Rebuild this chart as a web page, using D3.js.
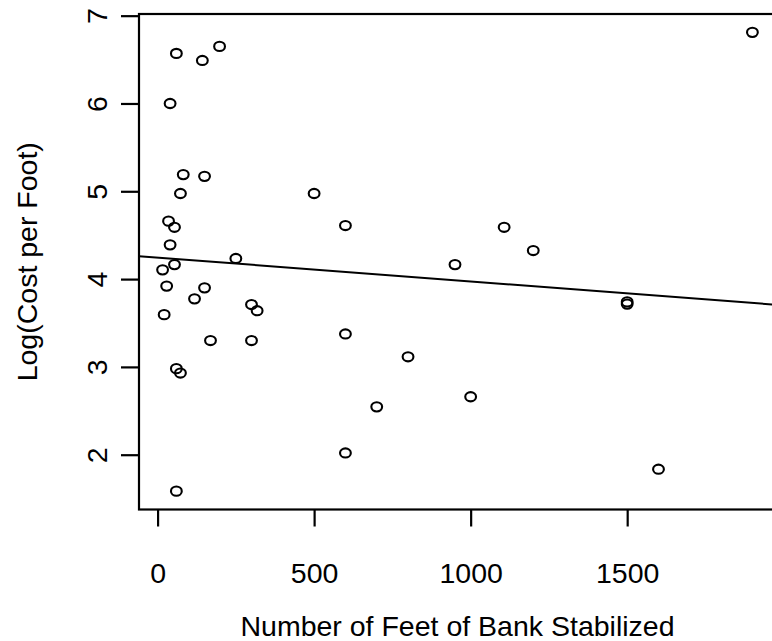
<!DOCTYPE html>
<html>
<head>
<meta charset="utf-8">
<script src="https://cdn.jsdelivr.net/npm/d3@7"></script>
<style>
  body { margin: 0; background: #fff; }
  svg { display: block; }
  text { font-family: "Liberation Sans", Arial, Helvetica, sans-serif; fill: #000; }
</style>
</head>
<body>
<div id="chart"></div>
<script>
// feet of bank stabilized
const feet = [60, 143, 198, 40, 82, 150, 73, 500, 1900,
  35, 54, 40, 54, 16, 29, 150, 118, 21, 169, 300, 318, 300,
  60, 73, 60, 250, 600, 600, 600, 700, 1107, 1200, 950,
  1500, 1500, 800, 1000, 1600];
// log(cost per foot)
const logCost = [6.57, 6.49, 6.65, 6.0, 5.19, 5.17, 4.975, 4.975, 6.81,
  4.66, 4.59, 4.39, 4.165, 4.105, 3.92, 3.90, 3.775, 3.595, 3.30, 3.71, 3.64, 3.30,
  2.98, 2.93, 1.585, 4.235, 4.61, 3.375, 2.02, 2.545, 4.59, 4.325, 4.165,
  3.74, 3.715, 3.115, 2.66, 1.835];

const xTicks = [0, 500, 1000, 1500];
const yTicks = [2, 3, 4, 5, 6, 7];

// fitted line
const fitIntercept = 4.245;
const fitSlope = -0.000272;

const W = 772, H = 641;
const plot = {left: 139, right: 776, top: 14, bottom: 509.5};
const fontSize = "28.5px";

const points = feet.map((f, i) => ({x: f, y: logCost[i]}));

// R style 4% padding on data range
function padded(ext) {
  const p = (ext[1] - ext[0]) * 0.04;
  return [ext[0] - p, ext[1] + p];
}

const x = d3.scaleLinear()
  .domain(padded(d3.extent(feet)))
  .range([plot.left, plot.right]);

const y = d3.scaleLinear()
  .domain(padded(d3.extent(logCost)))
  .range([plot.bottom, plot.top]);

const svg = d3.select("#chart").append("svg")
  .attr("width", W)
  .attr("height", H);

// clip for the regression line
svg.append("clipPath").attr("id", "plotclip")
  .append("rect")
  .attr("x", plot.left).attr("y", plot.top)
  .attr("width", plot.right - plot.left)
  .attr("height", plot.bottom - plot.top);

// x axis
const gx = svg.append("g")
  .attr("transform", `translate(0,${plot.bottom})`)
  .call(d3.axisBottom(x).tickValues(xTicks).tickSize(17).tickFormat(d3.format("d")));
gx.select(".domain").remove();
gx.selectAll(".tick line").attr("stroke", "#000").attr("stroke-width", 2.2);
gx.selectAll(".tick text")
  .attr("y", 73.5)
  .attr("dy", 0)
  .attr("font-size", fontSize)
  .attr("font-family", null);

// y axis
const gy = svg.append("g")
  .attr("transform", `translate(${plot.left},0)`)
  .call(d3.axisLeft(y).tickValues(yTicks).tickSize(18).tickFormat(d3.format("d")));
gy.select(".domain").remove();
gy.selectAll(".tick line").attr("stroke", "#000").attr("stroke-width", 2.2);
gy.selectAll(".tick text")
  .attr("transform", "rotate(-90)")
  .attr("x", 0)
  .attr("y", -32.3)
  .attr("dy", 0)
  .attr("text-anchor", "middle")
  .attr("font-size", fontSize)
  .attr("font-family", null);

// box
svg.append("rect")
  .attr("x", plot.left).attr("y", plot.top)
  .attr("width", plot.right - plot.left)
  .attr("height", plot.bottom - plot.top)
  .attr("fill", "none")
  .attr("stroke", "#000")
  .attr("stroke-width", 2.2);

// points
svg.selectAll(".pt")
  .data(points)
  .enter()
  .append("ellipse")
  .attr("class", "pt")
  .attr("cx", d => x(d.x))
  .attr("cy", d => y(d.y))
  .attr("rx", 5.4)
  .attr("ry", 4.6)
  .attr("fill", "none")
  .attr("stroke", "#000")
  .attr("stroke-width", 2.1);

// regression line
const [xa, xb] = x.domain();
svg.append("line")
  .attr("clip-path", "url(#plotclip)")
  .attr("x1", x(xa)).attr("y1", y(fitIntercept + fitSlope * xa))
  .attr("x2", x(xb)).attr("y2", y(fitIntercept + fitSlope * xb))
  .attr("stroke", "#000")
  .attr("stroke-width", 2);

// axis titles
svg.append("text")
  .attr("x", (plot.left + plot.right) / 2)
  .attr("y", 635.5)
  .attr("text-anchor", "middle")
  .attr("font-size", fontSize)
  .text("Number of Feet of Bank Stabilized");

svg.append("text")
  .attr("transform", `translate(37,${(plot.top + plot.bottom) / 2}) rotate(-90)`)
  .attr("text-anchor", "middle")
  .attr("font-size", fontSize)
  .text("Log(Cost per Foot)");
</script>
</body>
</html>
